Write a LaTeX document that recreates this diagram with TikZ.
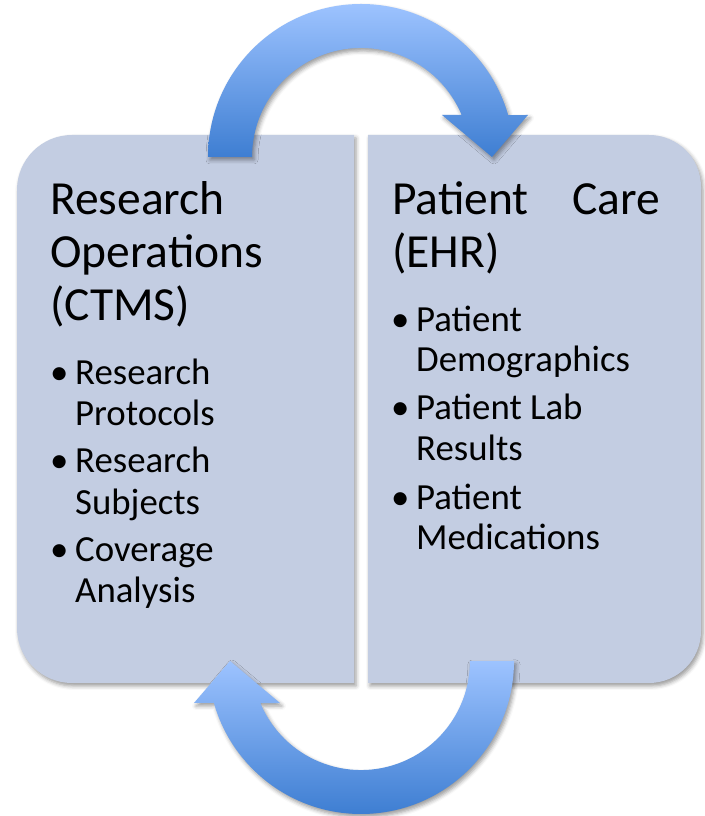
\documentclass[tikz,border=0pt]{standalone}
\usepackage{fontspec}
\setmainfont{Carlito}
\usetikzlibrary{shadows.blur}
\definecolor{boxc}{RGB}{195,205,226}
\definecolor{arrlight}{RGB}{157,195,255}
\definecolor{arrdark}{RGB}{62,126,210}
\tikzset{
  softshadow/.style={blur shadow={shadow xshift=2pt, shadow yshift=-3pt, shadow opacity=40, shadow blur radius=4pt}},
  boxfill/.style={fill=boxc, softshadow},
  arrowshade/.style={top color=arrlight, bottom color=arrdark, softshadow},
  titletext/.style={anchor=base west, inner sep=0pt, font=\fontsize{47.5}{52}\selectfont},
  itemtext/.style={anchor=base west, inner sep=0pt, font=\fontsize{36.8}{41}\selectfont},
}
\newcommand\bulmark{\llap{\makebox[25pt][l]{•}}}
\begin{document}
\begin{tikzpicture}[x=1pt,y=1pt]
\useasboundingbox (0,0) rectangle (704,816);
% boxes
\path[boxfill] (354,681) -- (72,681) arc[start angle=90, end angle=180, radius=55pt]
  -- (17,188) arc[start angle=180, end angle=270, radius=55pt] -- (354,133) -- cycle;
\path[boxfill] (368,681) -- (649,681) arc[start angle=90, end angle=0, radius=52pt]
  -- (701,185) arc[start angle=0, end angle=-90, radius=52pt] -- (368,133) -- cycle;
% top arrow
\shade[arrowshade] (208,659) arc[start angle=180, end angle=15.9, radius=153pt]
  -- (528,701) -- (492,659) -- (442,701) -- (461.6,701.1)
  arc[start angle=22.7, end angle=180, radius=109pt] -- cycle;
% bottom arrow
\shade[arrowshade] (514,155) arc[start angle=0, end angle=-164.1, radius=153pt]
  -- (194,113) -- (230,155) -- (280,113) -- (260.4,112.9)
  arc[start angle=-157.3, end angle=0, radius=109pt] -- cycle;
% left texts
\node[titletext] (lt1) at (50,601) {Research};
\node[titletext] (lt2) at (50,548) {Operations};
\node[titletext] (lt3) at (50,495) {(CTMS)};
\node[itemtext] (la1) at (75,431) {\bulmark Research};
\node[itemtext] (la2) at (75,390) {Protocols};
\node[itemtext] (lb1) at (75,343) {\bulmark Research};
\node[itemtext] (lb2) at (75,301) {Subjects};
\node[itemtext] (lc1) at (75,254) {\bulmark Coverage};
\node[itemtext] (lc2) at (75,213) {Analysis};
% right texts
\node[titletext] (rt1) at (392,601) {\hbox to 268pt{Patient\hfill Care}};
\node[titletext] (rt2) at (392,548) {(EHR)};
\node[itemtext] (ra1) at (416,484) {\bulmark Patient};
\node[itemtext] (ra2) at (416,444) {Demographics};
\node[itemtext] (rb1) at (416,396) {\bulmark Patient Lab};
\node[itemtext] (rb2) at (416,355) {Results};
\node[itemtext] (rc1) at (416,306) {\bulmark Patient};
\node[itemtext] (rc2) at (416,266) {Medications};
\end{tikzpicture}
\end{document}
